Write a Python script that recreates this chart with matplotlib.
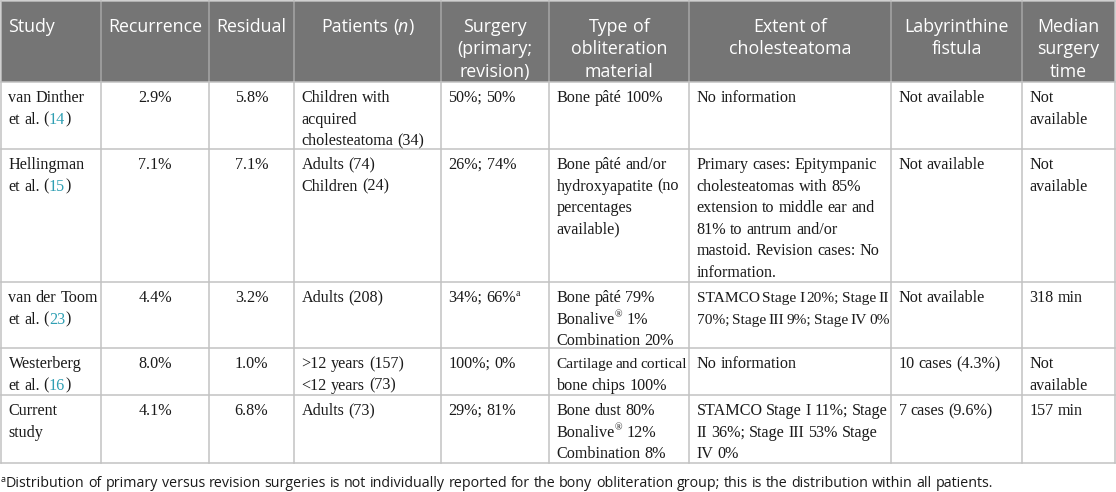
import re
import matplotlib.pyplot as plt
from matplotlib.patches import Rectangle

# Comparison of obliteration studies, drawn as a table
W, H = 1116, 492

headers = ['Study', 'Recurrence', 'Residual', 'Patients (*n*)',
           'Surgery\n(primary;\nrevision)', 'Type of\nobliteration\nmaterial',
           'Extent of\ncholesteatoma', 'Labyrinthine\nfistula',
           'Median\nsurgery\ntime']

study = ['van Dinther\net al. ({14})', 'Hellingman\net al. ({15})',
         'van der Toom\net al. ({23})', 'Westerberg\net al. ({16})',
         'Current\nstudy']
recurrence = ['2.9%', '7.1%', '4.4%', '8.0%', '4.1%']
residual = ['5.8%', '7.1%', '3.2%', '1.0%', '6.8%']
patients = ['Children with\nacquired\ncholesteatoma (34)',
            'Adults (74)\nChildren (24)',
            'Adults (208)',
            '>12 years (157)\n<12 years (73)',
            'Adults (73)']
surgery = ['50%; 50%', '26%; 74%', '34%; 66%^a', '100%; 0%', '29%; 81%']
material = ['Bone pâté 100%',
            'Bone pâté and/or\nhydroxyapatite (no\npercentages\navailable)',
            'Bone pâté 79%\nBonalive^® 1%\nCombination 20%',
            'Cartilage and cortical\nbone chips 100%',
            'Bone dust 80%\nBonalive^® 12%\nCombination 8%']
extent = ['No information',
          'Primary cases: Epitympanic\ncholesteatomas with 85%\n'
          'extension to middle ear and\n81% to antrum and/or\n'
          'mastoid. Revision cases: No\ninformation.',
          'STAMCO Stage I 20%; Stage II\n70%; Stage III 9%; Stage IV 0%',
          'No information',
          'STAMCO Stage I 11%; Stage\nII 36%; Stage III 53% Stage\nIV 0%']
fistula = ['Not available', 'Not available', 'Not available',
           '10 cases (4.3%)', '7 cases (9.6%)']
surgery_time = ['Not\navailable', 'Not\navailable', '318 min',
                'Not\navailable', '157 min']

footnote = ('^aDistribution of primary versus revision surgeries is not '
            'individually reported for the bony obliteration group; this is '
            'the distribution within all patients.')

columns = [study, recurrence, residual, patients, surgery, material,
           extent, fistula, surgery_time]
body_align = ['left', 'center', 'center', 'left', 'left', 'left', 'left',
              'left', 'left']
head_align = ['left'] + ['center'] * 8

# layout in pixels
col_edges = [1, 101, 209, 294, 441, 549, 689, 891, 1022, 1115]
row_edges = [1, 82, 149, 282, 348, 395, 463]
PAD = 7.5

HEAD_BG = '#757575'
HEAD_SEP = '#a6a6a6'
GRID = '#c2c2c2'
LINK = '#2f9fb3'

SERIF = 'Liberation Serif'
SANS = 'Open Sans'

fig = plt.figure(figsize=(W / 100, H / 100), dpi=100)
ax = fig.add_axes([0, 0, 1, 1])
ax.set_xlim(0, W)
ax.set_ylim(H, 0)
ax.axis('off')
renderer = fig.canvas.get_renderer()


def raw_width(s, **kw):
    t = ax.text(0, 0, s, **kw)
    w = t.get_window_extent(renderer).width
    t.remove()
    return w


def width_of(s, **kw):
    # advance width: measure between two bars so ink bounds don't matter
    return raw_width('|' + s + '|', **kw) - raw_width('||', **kw)


def tokens(line):
    out = []
    for part in re.split(r'(\{[^}]*\}|\^.|\*[^*]+\*)', line):
        if not part:
            continue
        if part.startswith('{'):
            out.append((part[1:-1], 'link'))
        elif part.startswith('^'):
            out.append((part[1:], 'sup'))
        elif part.startswith('*'):
            out.append((part[1:-1], 'ital'))
        else:
            for w in re.split(r'( )', part):
                if w:
                    out.append((w, 'space' if w == ' ' else 'plain'))
    return out


def props(style, family, size, color):
    p = dict(family=family, size=size, color=color)
    if style == 'link':
        p['color'] = LINK
    elif style == 'sup':
        p['size'] = size * 0.62
    elif style == 'ital':
        p['style'] = 'italic'
    return p


def measure(toks, family, size, color):
    spw = width_of(' ', family=family, size=size)
    widths = [0 if st == 'space' else width_of(s, **props(st, family, size, color))
              for s, st in toks]
    return spw, widths


def draw_line(line, x0, x1, y, align, family, size, color, pad=PAD):
    toks = tokens(line)
    nsp = sum(1 for s, st in toks if st == 'space')
    avail = x1 - x0 - pad - 3
    spw, widths = measure(toks, family, size, color)
    total = sum(widths) + nsp * spw
    if total > avail and nsp:
        # squeeze the spaces first, like justified text
        spw = max(2.6, (avail - sum(widths)) / nsp)
        total = sum(widths) + nsp * spw
        if total > avail:
            size = size * avail / total
            spw, widths = measure(toks, family, size, color)
            spw = max(2.6, (avail - sum(widths)) / nsp)
            total = sum(widths) + nsp * spw
    if align == 'center':
        x = (x0 + x1) / 2 - total / 2
    else:
        x = x0 + pad
    for (s, st), w in zip(toks, widths):
        if st == 'space':
            x += spw
            continue
        p = props(st, family, size, color)
        dy = -size / 0.72 * 0.38 if st == 'sup' else 0
        ax.text(x, y + dy, s, ha='left', va='baseline', **p)
        x += w


# header background and lines
ax.add_patch(Rectangle((col_edges[0], row_edges[0]), col_edges[-1] - col_edges[0],
                       row_edges[1] - row_edges[0], facecolor=HEAD_BG, edgecolor='none'))
for xe in col_edges[1:-1]:
    ax.plot([xe, xe], [row_edges[0], row_edges[1]], color=HEAD_SEP, lw=1.1)
    ax.plot([xe, xe], [row_edges[1], row_edges[-1]], color=GRID, lw=1.1)
for xe in (col_edges[0], col_edges[-1]):
    ax.plot([xe, xe], [row_edges[0], row_edges[-1]], color=GRID, lw=1.1)
for ye in row_edges:
    ax.plot([col_edges[0], col_edges[-1]], [ye, ye], color=GRID, lw=1.1)

# header text
for c, head in enumerate(headers):
    for k, line in enumerate(head.split('\n')):
        draw_line(line, col_edges[c], col_edges[c + 1], row_edges[0] + 31 + k * 22.5,
                  head_align[c], SANS, 12.8, 'white')

# body text
for c, col in enumerate(columns):
    for r, cell in enumerate(col):
        top = row_edges[r + 1]
        for k, line in enumerate(cell.split('\n')):
            draw_line(line, col_edges[c], col_edges[c + 1], top + 20 + k * 21.6,
                      body_align[c], SERIF, 11.6, '#1a1a1a')

# footnote
draw_line(footnote, 0, W * 2, 487, 'left', SANS, 10.3, '#1a1a1a', pad=1)

fig.savefig('out.png', dpi=100, facecolor='white')
